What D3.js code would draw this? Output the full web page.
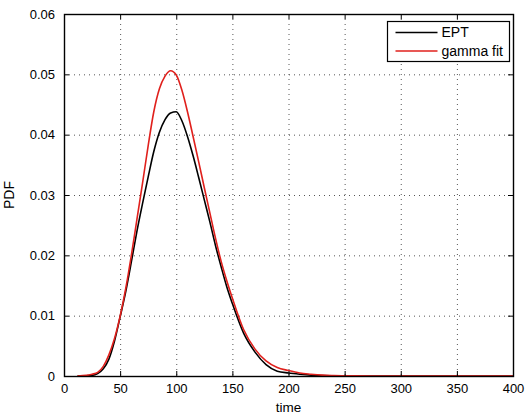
<!DOCTYPE html>
<html>
<head>
<meta charset="utf-8">
<script src="https://cdn.jsdelivr.net/npm/d3@7"></script>
<style>
  body { margin: 0; background: #fff; }
  svg { display: block; font-family: "Liberation Sans", Arial, sans-serif; }
</style>
</head>
<body>
<div id="wrapper"></div>
<script>
// values
const times = [12, 20, 25, 30, 35, 40, 45, 50, 55, 60, 65, 70, 75, 80, 85, 90, 95, 100,
               105, 110, 115, 120, 125, 130, 135, 140, 145, 150, 160, 170, 180, 190,
               200, 210, 220, 230, 240, 250, 275, 300, 350, 400];

const eptPdf = [0, 0.00005, 0.0001, 0.0004, 0.0012, 0.0028, 0.0058, 0.0098, 0.0140, 0.0189,
                0.0240, 0.0286, 0.0330, 0.0372, 0.0404, 0.0425, 0.0436, 0.0438,
                0.0423, 0.0397, 0.0365, 0.0329, 0.0292, 0.0255, 0.0216, 0.0181, 0.0148,
                0.0120, 0.0071, 0.0040, 0.0019, 0.0008,
                0.0005, 0.0003, 0.00015, 0.00008, 0.00004, 0.00002, 0, 0, 0, 0];

const gammaPdf = [0, 0.0001, 0.0003, 0.0006, 0.0016, 0.0035, 0.0062, 0.0099, 0.0145, 0.0200,
                  0.0260, 0.0320, 0.0382, 0.0438, 0.0476, 0.0497, 0.0506, 0.0499,
                  0.0474, 0.0438, 0.0397, 0.0355, 0.0312, 0.0270, 0.0228, 0.0190, 0.0158,
                  0.0129, 0.0077, 0.0045, 0.0025, 0.0014,
                  0.0009, 0.0005, 0.0003, 0.00015, 0.00008, 0.00004, 0.00001, 0, 0, 0];

const xTicks = [0, 50, 100, 150, 200, 250, 300, 350, 400];
const yTicks = [0, 0.01, 0.02, 0.03, 0.04, 0.05, 0.06];
const seriesNames = ["EPT", "gamma fit"];
const seriesColors = ["#000000", "#e0201c"];

function drawChart() {
    const dms = {
        width: 526,
        height: 413,
        margins: { top: 14, right: 13, bottom: 37, left: 64 }
    };
    dms.innerWidth = dms.width - dms.margins.left - dms.margins.right;
    dms.innerHeight = dms.height - dms.margins.top - dms.margins.bottom;

    const svg = d3.select("#wrapper")
        .append("svg")
        .attr("width", dms.width)
        .attr("height", dms.height);

    const inner = svg.append("g")
        .attr("transform", `translate(${dms.margins.left},${dms.margins.top})`);

    const xScale = d3.scaleLinear().domain([0, 400]).range([0, dms.innerWidth]);
    const yScale = d3.scaleLinear().domain([0, 0.06]).range([dms.innerHeight, 0]);

    // grid
    const grid = inner.append("g")
        .attr("stroke", "#555")
        .attr("stroke-width", 1)
        .attr("stroke-dasharray", "1,4");
    grid.selectAll(".gx")
        .data(xTicks.slice(1, -1))
        .join("line")
            .attr("x1", d => xScale(d) + 0.5)
            .attr("x2", d => xScale(d) + 0.5)
            .attr("y1", 0)
            .attr("y2", dms.innerHeight);
    grid.selectAll(".gy")
        .data(yTicks.slice(1, -1))
        .join("line")
            .attr("y1", d => yScale(d) + 0.5)
            .attr("y2", d => yScale(d) + 0.5)
            .attr("x1", 0)
            .attr("x2", dms.innerWidth);

    // curves
    const seriesData = [eptPdf, gammaPdf];
    const lineGen = d3.line()
        .x((d, i) => xScale(times[i]))
        .y(d => yScale(d))
        .curve(d3.curveMonotoneX);

    inner.selectAll(".curve")
        .data(seriesData)
        .join("path")
            .attr("fill", "none")
            .attr("stroke", (d, i) => seriesColors[i])
            .attr("stroke-width", 1.6)
            .attr("d", lineGen);

    // axes, ticks pointing inward on all four sides
    const tickSize = 5;
    const xAxis = inner.append("g")
        .attr("transform", `translate(0,${dms.innerHeight})`)
        .call(d3.axisBottom(xScale).tickValues(xTicks).tickSizeInner(-tickSize).tickSizeOuter(0).tickPadding(8).tickFormat(d3.format("d")));
    const yAxis = inner.append("g")
        .call(d3.axisLeft(yScale).tickValues(yTicks).tickSizeInner(-tickSize).tickSizeOuter(0).tickPadding(9).tickFormat(d => d === 0 ? "0" : d3.format(".2f")(d)));
    const xTop = inner.append("g")
        .call(d3.axisTop(xScale).tickValues(xTicks).tickSizeInner(-tickSize).tickSizeOuter(0).tickFormat(""));
    const yRight = inner.append("g")
        .attr("transform", `translate(${dms.innerWidth},0)`)
        .call(d3.axisRight(yScale).tickValues(yTicks).tickSizeInner(-tickSize).tickSizeOuter(0).tickFormat(""));

    [xAxis, yAxis, xTop, yRight].forEach(ax => {
        ax.select(".domain").remove();
        ax.selectAll("text")
            .attr("fill", "#000")
            .style("font-size", "13px");
        ax.selectAll("line").attr("stroke", "#000");
    });

    inner.append("rect")
        .attr("x", 0.5)
        .attr("y", 0.5)
        .attr("width", dms.innerWidth)
        .attr("height", dms.innerHeight)
        .attr("fill", "none")
        .attr("stroke", "#000")
        .attr("stroke-width", 1.4);

    // axis labels
    svg.append("text")
        .attr("x", dms.margins.left + dms.innerWidth / 2)
        .attr("y", 411.5)
        .attr("text-anchor", "middle")
        .style("font-size", "13.5px")
        .text("time");

    svg.append("text")
        .attr("transform", `translate(14,${dms.margins.top + dms.innerHeight / 2}) rotate(-90)`)
        .attr("text-anchor", "middle")
        .style("font-size", "14px")
        .text("PDF");

    // legend
    const legend = svg.append("g").attr("transform", "translate(387.5,21.5)");
    legend.append("rect")
        .attr("width", 122)
        .attr("height", 40)
        .attr("fill", "#fff")
        .attr("stroke", "#000")
        .attr("stroke-width", 1.2);
    const items = legend.selectAll(".item")
        .data(seriesNames)
        .join("g")
            .attr("transform", (d, i) => `translate(0,${11 + i * 18.5})`);
    items.append("line")
        .attr("x1", 8)
        .attr("x2", 50)
        .attr("stroke", (d, i) => seriesColors[i])
        .attr("stroke-width", 1.4);
    items.append("text")
        .attr("x", 54)
        .attr("dy", "0.35em")
        .style("font-size", "14px")
        .text(d => d);
}

drawChart();
</script>
</body>
</html>
